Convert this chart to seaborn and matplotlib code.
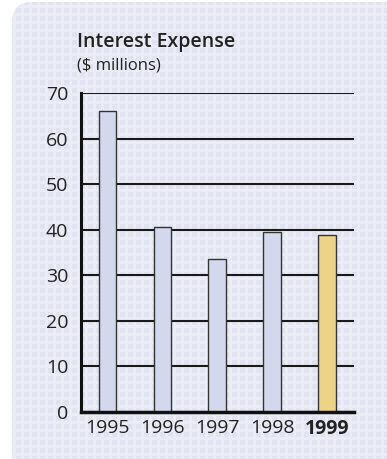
import matplotlib
matplotlib.use("Agg")
import matplotlib.pyplot as plt
from matplotlib.patches import FancyBboxPatch
import seaborn as sns
import pandas as pd
import numpy as np

years = ["1995", "1996", "1997", "1998", "1999"]
values = [66.1, 40.5, 33.6, 39.4, 38.8]
colors = ["#d3d8ec", "#d3d8ec", "#d3d8ec", "#d3d8ec", "#ecd389"]
yticks = [0, 10, 20, 30, 40, 50, 60, 70]
title = "Interest Expense"
subtitle = "($ millions)"

sns.set_theme(style="white")
plt.rcParams["font.family"] = ["Open Sans", "DejaVu Sans"]

W, H = 387, 459
fig = plt.figure(figsize=(W / 100, H / 100), dpi=100)
fig.patch.set_facecolor("white")

# background panel in a full-figure axes behind the chart
bg = fig.add_axes([0, 0, 1, 1], zorder=-1)
bg.set_xlim(0, W)
bg.set_ylim(H, 0)
bg.axis("off")
panel = FancyBboxPatch((12, 2), W + 40, H + 40,
                       boxstyle="round,pad=0,rounding_size=20",
                       facecolor="#eaecf6", edgecolor="none")
bg.add_patch(panel)
# subtle dotted texture
yy, xx = np.mgrid[0:H, 0:W]
dots = ((xx % 8) < 5) & ((yy % 8) < 5)
tex = np.zeros((H, W, 4))
tex[..., 0] = 0xdf / 255
tex[..., 1] = 0xe2 / 255
tex[..., 2] = 0xef / 255
tex[..., 3] = np.where(dots, 0.8, 0.0)
im = bg.imshow(tex, extent=(0, W, H, 0), interpolation="nearest", zorder=1)
im.set_clip_path(panel)
bg.set_xlim(0, W)
bg.set_ylim(H, 0)

ax_l, ax_r = 80.7 / W, 353.7 / W
ax_b, ax_t = (H - 411.7) / H, (H - 93.3) / H
ax = fig.add_axes([ax_l, ax_b, ax_r - ax_l, ax_t - ax_b], zorder=1)
ax.set_facecolor("none")

df = pd.DataFrame({"year": years, "value": values})
sns.barplot(data=df, x="year", y="value", hue="year", palette=colors,
            saturation=1, legend=False, width=0.32, edgecolor="#333333",
            linewidth=1.0, ax=ax, zorder=3)

ax.set_xlim(-0.49, 4.49)
ax.set_ylim(0, 70)
ax.set_yticks(yticks)
ax.set_yticklabels([str(t) for t in yticks], fontsize=14, color="#222222")
ax.yaxis.grid(True, color="#1a1a1a", linewidth=1.5, zorder=1)
ax.set_axisbelow(True)
ax.tick_params(axis="both", length=0)
ax.tick_params(axis="y", pad=9)
ax.tick_params(axis="x", pad=5)
labels = ax.set_xticklabels(years, fontsize=14, color="#222222")
labels[-1].set_fontweight("bold")
ax.set_xlabel("")
ax.set_ylabel("")
for side in ["top", "right"]:
    ax.spines[side].set_visible(False)
ax.spines["left"].set_linewidth(2.2)
ax.spines["left"].set_color("#111111")
ax.spines["bottom"].set_linewidth(2.5)
ax.spines["bottom"].set_color("#111111")
ax.spines["left"].set_zorder(5)
ax.spines["bottom"].set_zorder(5)

fig.text(77 / W, 1 - 32 / H, title, fontsize=14, fontweight="semibold",
         color="#222222", va="top", ha="left")
fig.text(77 / W, 1 - 58 / H, subtitle, fontsize=12, color="#222222",
         va="top", ha="left")

fig.savefig("out.png", dpi=100)
